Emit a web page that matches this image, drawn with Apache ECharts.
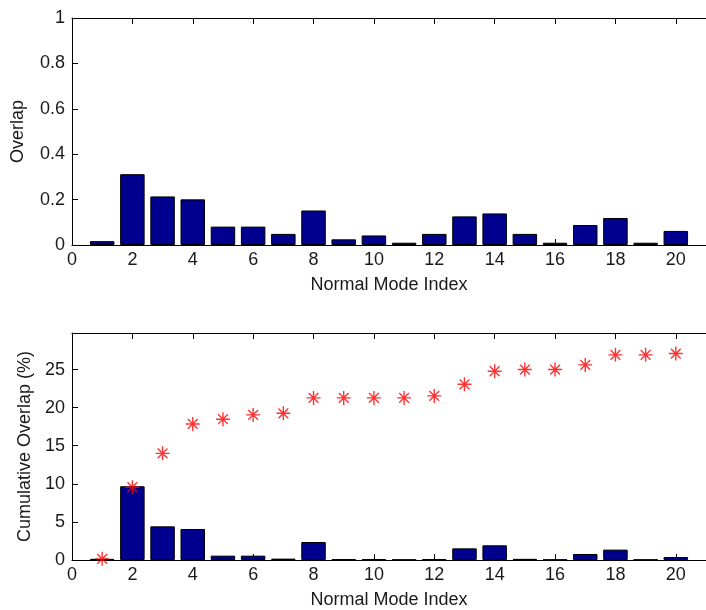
<!DOCTYPE html>
<html>
<head>
<meta charset="utf-8">
<script src="https://cdn.jsdelivr.net/npm/echarts@6/dist/echarts.min.js"></script>
<style>
  html, body { margin: 0; padding: 0; background: #fff; }
  #chart { width: 706px; height: 610px; }
</style>
</head>
<body>
<div id="chart"></div>
<script>
// Normal mode index (x positions of bars / markers)
const modeIndex = [1, 2, 3, 4, 5, 6, 7, 8, 9, 10, 11, 12, 13, 14, 15, 16, 17, 18, 19, 20];

// Overlap of each normal mode
const overlap = [0.017, 0.312, 0.214, 0.201, 0.081, 0.081, 0.049, 0.152, 0.025, 0.042,
                 0.010, 0.049, 0.126, 0.139, 0.049, 0.010, 0.088, 0.119, 0.010, 0.062];

// Per-mode contribution (%) shown as bars in the lower panel
const contributionPct = [0.15, 9.68, 4.42, 4.07, 0.57, 0.57, 0.18, 2.36, 0.10, 0.10,
                         0.05, 0.10, 1.53, 1.93, 0.15, 0.05, 0.79, 1.36, 0.05, 0.39];

// Cumulative overlap (%) drawn as red asterisks
const cumulativePct = [0.15, 9.55, 14.0, 17.86, 18.48, 19.05, 19.26, 21.28, 21.28, 21.28,
                       21.28, 21.54, 23.07, 24.78, 25.0, 25.0, 25.61, 26.93, 26.93, 27.1];

// Axis ranges
const xRange = [0, 21];
const xStep = 2;
const topYRange = [0, 1];
const topYStep = 0.2;
const bottomYRange = [0, 29.8];
const bottomYStep = 5;

const FONT = '"Liberation Sans", Arial, Helvetica, sans-serif';
const FONT_SIZE = 18;
const INK = '#000';
const TEXT = '#1a1a1a';
const BAR_FILL = '#00008F';

const W = 706;
const gridLeft = 72;
const gridRight = -9;
const unitPx = (W - gridLeft - gridRight) / (xRange[1] - xRange[0]);
const barPx = 0.8 * unitPx;

// MATLAB-like '*' marker: plus with shorter diagonals and a solid core
const asterisk = 'path://M45,0L55,0L55,100L45,100Z' +
  'M0,45L100,45L100,55L0,55Z' +
  'M18.5,11.5L88.5,81.5L81.5,88.5L11.5,18.5Z' +
  'M81.5,11.5L88.5,18.5L18.5,88.5L11.5,81.5Z' +
  'M38,38L62,38L62,62L38,62Z';

const pairs = (xs, ys) => xs.map((x, i) => [x, ys[i]]);

const labelStyle = { color: TEXT, fontFamily: FONT, fontSize: FONT_SIZE };

function bottomXAxis(gridIndex) {
  return {
    type: 'value', gridIndex, position: 'bottom',
    min: xRange[0], max: xRange[1], interval: xStep,
    axisLine: { show: true, onZero: false, lineStyle: { color: INK, width: 1 } },
    axisTick: { show: true, inside: true, length: 6, lineStyle: { color: INK } },
    axisLabel: Object.assign({ margin: 6, showMaxLabel: false }, labelStyle),
    splitLine: { show: false },
    name: 'Normal Mode Index', nameLocation: 'middle', nameGap: 31,
    nameTextStyle: labelStyle
  };
}

function topXAxis(gridIndex) {
  return {
    type: 'value', gridIndex, position: 'top',
    min: xRange[0], max: xRange[1], interval: xStep,
    axisLine: { show: true, onZero: false, lineStyle: { color: INK, width: 1 } },
    axisTick: { show: true, inside: true, length: 6, lineStyle: { color: INK } },
    axisLabel: { show: false },
    splitLine: { show: false }
  };
}

function leftYAxis(gridIndex, range, step, name, gap, showMax) {
  return {
    type: 'value', gridIndex, position: 'left',
    min: range[0], max: range[1], interval: step,
    axisLine: { show: true, onZero: false, lineStyle: { color: INK, width: 1 } },
    axisTick: { show: true, inside: true, length: 6, lineStyle: { color: INK } },
    axisLabel: Object.assign({ margin: 7, showMaxLabel: showMax }, labelStyle),
    splitLine: { show: false },
    name, nameLocation: 'middle', nameGap: gap, nameRotate: 90,
    nameTextStyle: labelStyle
  };
}

const chart = echarts.init(document.getElementById('chart'), null, { renderer: 'canvas' });

chart.setOption({
  animation: false,
  backgroundColor: '#fff',
  grid: [
    { left: gridLeft, right: gridRight, top: 18, height: 227 },
    { left: gridLeft, right: gridRight, top: 333, height: 227 }
  ],
  xAxis: [bottomXAxis(0), topXAxis(0), bottomXAxis(1), topXAxis(1)],
  yAxis: [
    leftYAxis(0, topYRange, topYStep, 'Overlap', 45, true),
    leftYAxis(1, bottomYRange, bottomYStep, 'Cumulative Overlap (%)', 37, false)
  ],
  series: [
    {
      type: 'bar', xAxisIndex: 0, yAxisIndex: 0,
      data: pairs(modeIndex, overlap),
      barWidth: barPx,
      itemStyle: { color: BAR_FILL, borderColor: INK, borderWidth: 1 },
      emphasis: { disabled: true }
    },
    {
      type: 'bar', xAxisIndex: 2, yAxisIndex: 1,
      data: pairs(modeIndex, contributionPct),
      barWidth: barPx,
      itemStyle: { color: BAR_FILL, borderColor: INK, borderWidth: 1 },
      emphasis: { disabled: true }
    },
    {
      type: 'scatter', xAxisIndex: 2, yAxisIndex: 1,
      data: pairs(modeIndex, cumulativePct),
      symbol: asterisk, symbolSize: 14,
      itemStyle: { color: '#FF0000' },
      emphasis: { disabled: true },
      z: 5
    }
  ]
});
</script>
</body>
</html>
